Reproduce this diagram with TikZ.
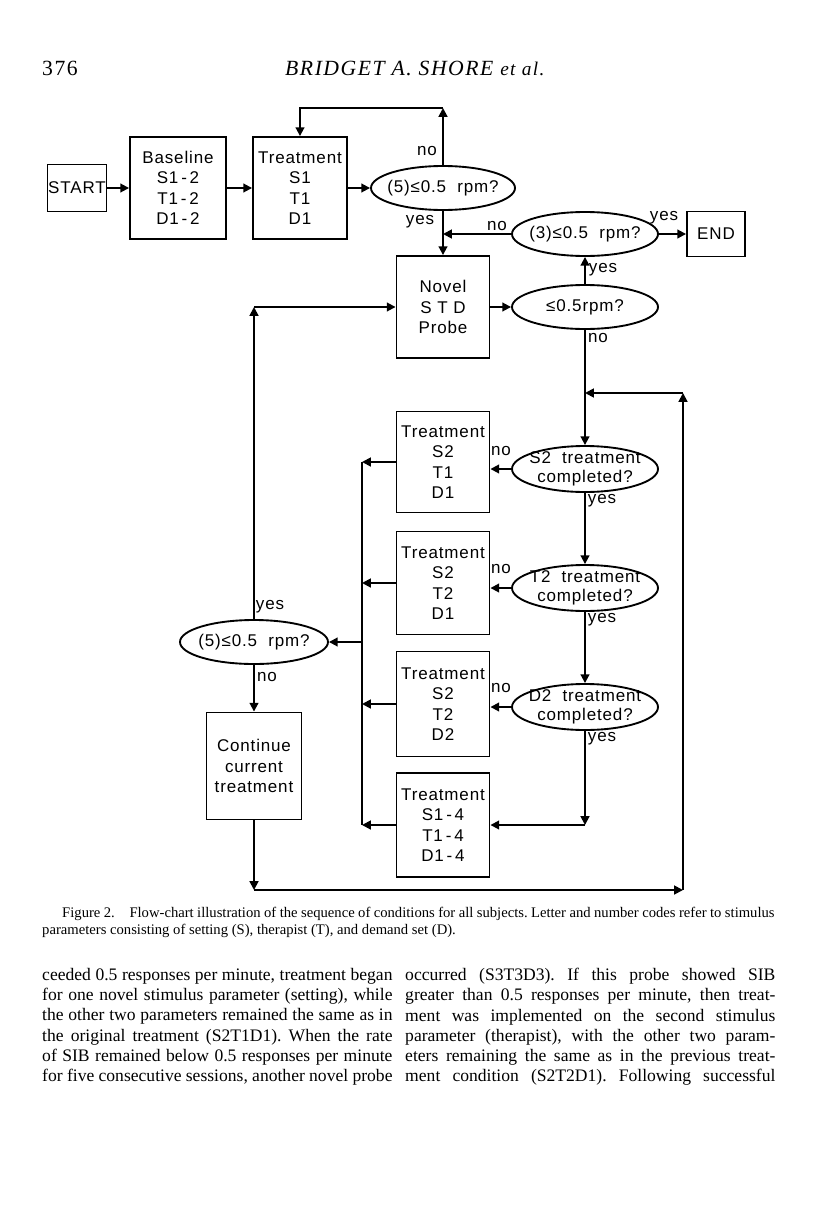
\documentclass[tikz,border=0pt]{standalone}
\usepackage{fontspec}
\setmainfont{Liberation Serif}
\newfontfamily\chartfont{Liberation Sans}[LetterSpace=5]
\newfontfamily\headfont{Liberation Serif}[LetterSpace=7]
\usetikzlibrary{arrows.meta, shapes.geometric, positioning}

\begin{document}
\begin{tikzpicture}[x=0.03cm, y=-0.03cm,
          stepbox/.style={
              draw,
              line width=1.6pt,
              align=center,
              inner sep=0pt,
              minimum width=2.79cm,
              minimum height=3.06cm,
              font=\chartfont\fontsize{14.5}{17.5}\selectfont
            },
          cond/.style={
              draw,
              ellipse,
              line width=1.6pt,
              inner xsep=-5pt,
              inner ysep=0pt,
              minimum width=4.38cm,
              minimum height=1.32cm,
              font=\chartfont\fontsize{14.5}{15.5}\selectfont
            },
          condtext/.style={align=center, inner sep=0pt, font=\chartfont\fontsize{14.5}{16.5}\selectfont},
          lbl/.style={inner sep=0pt, font=\chartfont\fontsize{14.5}{15}\selectfont},
          bodycol/.style={anchor=north west, inner sep=0pt, align=left, font=\frenchspacing\fontsize{15}{17.25}\selectfont},
          arr/.style={-{Triangle[length=7.5pt, width=7.5pt]}, line width=1.6pt},
          wire/.style={line width=1.6pt}
        ]
        \useasboundingbox (0,0) rectangle (816,1205);

        \node[anchor=base west, inner sep=0pt, font=\headfont\fontsize{18.5}{20}\selectfont] (pagenum) at (42,75) {376};
        \node[anchor=base west, inner sep=0pt, font=\headfont\fontsize{18.5}{20}\selectfont\itshape] (runhead) at (285,75) {BRIDGET A. SHORE {\fontsize{16.5}{18}\selectfont et al.}};

        \node[stepbox, minimum width=1.77cm, minimum height=1.41cm] (start) at (77,188) {START};
        \node[stepbox, minimum width=2.88cm] (base) at (178,188) {Baseline\\S1\,-\,2\\T1\,-\,2\\D1\,-\,2};
        \node[stepbox, minimum width=2.82cm] (treat) at (300,188) {Treatment\\S1\\T1\\D1};
        \node[cond, minimum width=4.32cm] (rate1) at (443,188) {(5)≤0.5\ \ rpm?};
        \coordinate (looptop) at (443,108);
        \node[cond] (rate2) at (585,234) {(3)≤0.5\ \ rpm?};
        \node[stepbox, minimum width=1.74cm, minimum height=1.35cm] (finish) at (716,234) {END};
        \node[stepbox] (novel) at (443,307) {Novel\\S T D\\Probe};
        \node[cond] (rate3) at (585,307) {≤0.5rpm?};

        \node[stepbox, minimum height=3.03cm] (trS) at (443,462) {Treatment\\S2\\T1\\D1};
        \node[stepbox, minimum height=3.09cm] (trT) at (443,583) {Treatment\\S2\\T2\\D1};
        \node[stepbox, minimum height=3.15cm] (trD) at (443,704) {Treatment\\S2\\T2\\D2};
        \node[stepbox, minimum height=3.12cm] (trAll) at (443,825) {Treatment\\S1\,-\,4\\T1\,-\,4\\D1\,-\,4};

        \node[cond, minimum height=1.38cm] (doneS) at (585,469) {};
        \node[condtext] (doneSt) at (doneS) {S2\ \ treatment\\completed?};
        \node[cond, minimum height=1.38cm] (doneT) at (585,588) {};
        \node[condtext] (doneTt) at (doneT) {T2\ \ treatment\\completed?};
        \node[cond, minimum height=1.38cm] (doneD) at (585,707) {};
        \node[condtext] (doneDt) at (doneD) {D2\ \ treatment\\completed?};

        \node[cond, minimum width=4.44cm] (rate4) at (254,642) {(5)≤0.5\ \ rpm?};
        \node[stepbox, minimum width=2.85cm, minimum height=3.21cm] (cont) at (254,766) {Continue\\current\\treatment};

        \coordinate (bus) at (362,0);
        \coordinate (botl) at (254,890);
        \coordinate (botr) at (683,890);
        \coordinate (topr) at (683,393);

        \draw[arr] (start) -- (base);
        \draw[arr] (base) -- (treat);
        \draw[arr] (treat) -- (rate1);
        \draw[arr] (rate1.north) -- (looptop);
        \draw[arr] (looptop) -| (treat.north);
        \draw[arr] (rate1) -- (novel);
        \draw[arr] (rate2.west) -- (rate2.west -| novel.north);
        \draw[arr] (rate2) -- (finish);
        \draw[arr] (novel) -- (rate3);
        \draw[arr] (rate3) -- (rate2);
        \draw[arr] (rate3) -- (doneS);
        \draw[arr] (doneS) -- (doneT);
        \draw[arr] (doneT) -- (doneD);
        \draw[arr] (doneD.south) -- (doneD.south |- trAll.east);
        \draw[arr] (doneD.south |- trAll.east) -- (trAll.east);

        \draw[arr] (doneS.west) -- (doneS.west -| trS.east);
        \draw[arr] (doneT.west) -- (doneT.west -| trT.east);
        \draw[arr] (doneD.west) -- (doneD.west -| trD.east);

        \draw[arr] (trS.west) -- (trS.west -| bus);
        \draw[arr] (trT.west) -- (trT.west -| bus);
        \draw[arr] (trD.west) -- (trD.west -| bus);
        \draw[arr] (trAll.west) -- (trAll.west -| bus);
        \draw[wire] (trS.west -| bus) -- (trAll.west -| bus);
        \draw[arr] (rate4.east -| bus) -- (rate4.east);

        \draw[arr] (rate4.north) -- (novel.west -| rate4.north);
        \draw[arr] (novel.west -| rate4.north) -- (novel.west);
        \draw[arr] (rate4) -- (cont);
        \draw[arr] (cont.south) -- (botl);
        \draw[arr] (botl) -- (botr);
        \draw[arr] (botr) -- (topr);
        \draw[arr] (topr) -- (topr -| rate3.south);

        \node[lbl] (no1) at (427,151) {no};
        \node[lbl] (yes1) at (420,222) {yes};
        \node[lbl] (no2) at (497,226) {no};
        \node[lbl] (yes2) at (664,218) {yes};
        \node[lbl] (yes3) at (603,270) {yes};
        \node[lbl] (no3) at (598,338) {no};
        \node[lbl] (noS) at (501,451) {no};
        \node[lbl] (yesS) at (602,501) {yes};
        \node[lbl] (noT) at (501,569) {no};
        \node[lbl] (yesT) at (602,620) {yes};
        \node[lbl] (noD) at (501,688) {no};
        \node[lbl] (yesD) at (602,739) {yes};
        \node[lbl] (yes4) at (270,607) {yes};
        \node[lbl] (no4) at (267,677) {no};

        \node[anchor=base west, inner sep=0pt, font=\frenchspacing\fontsize{12.5}{14.5}\selectfont] (capA) at (62,917)
          {\makebox[608pt][s]{Figure 2.\quad Flow-chart illustration of the sequence of conditions for all subjects. Letter and number codes refer to stimulus}};
        \node[anchor=base west, inner sep=0pt, font=\frenchspacing\fontsize{12.5}{14.5}\selectfont] (capB) at (42,934)
          {parameters consisting of setting (S), therapist (T), and demand set (D).};

        \node[bodycol] (colL) at (42,968) {%
          \makebox[299pt][s]{ceeded 0.5 responses per minute, treatment began}\\
          \makebox[299pt][s]{for one novel stimulus parameter (setting), while}\\
          \makebox[299pt][s]{the other two parameters remained the same as in}\\
          \makebox[299pt][s]{the original treatment (S2T1D1). When the rate}\\
          \makebox[299pt][s]{of SIB remained below 0.5 responses per minute}\\
          \makebox[299pt][s]{for five consecutive sessions, another novel probe}};
        \node[bodycol] (colR) at (405,968) {%
          \makebox[316pt][s]{occurred (S3T3D3). If this probe showed SIB}\\
          \makebox[316pt][s]{greater than 0.5 responses per minute, then treat-}\\
          \makebox[316pt][s]{ment was implemented on the second stimulus}\\
          \makebox[316pt][s]{parameter (therapist), with the other two param-}\\
          \makebox[316pt][s]{eters remaining the same as in the previous treat-}\\
          \makebox[316pt][s]{ment condition (S2T2D1). Following successful}};
      \end{tikzpicture}
\end{document}
